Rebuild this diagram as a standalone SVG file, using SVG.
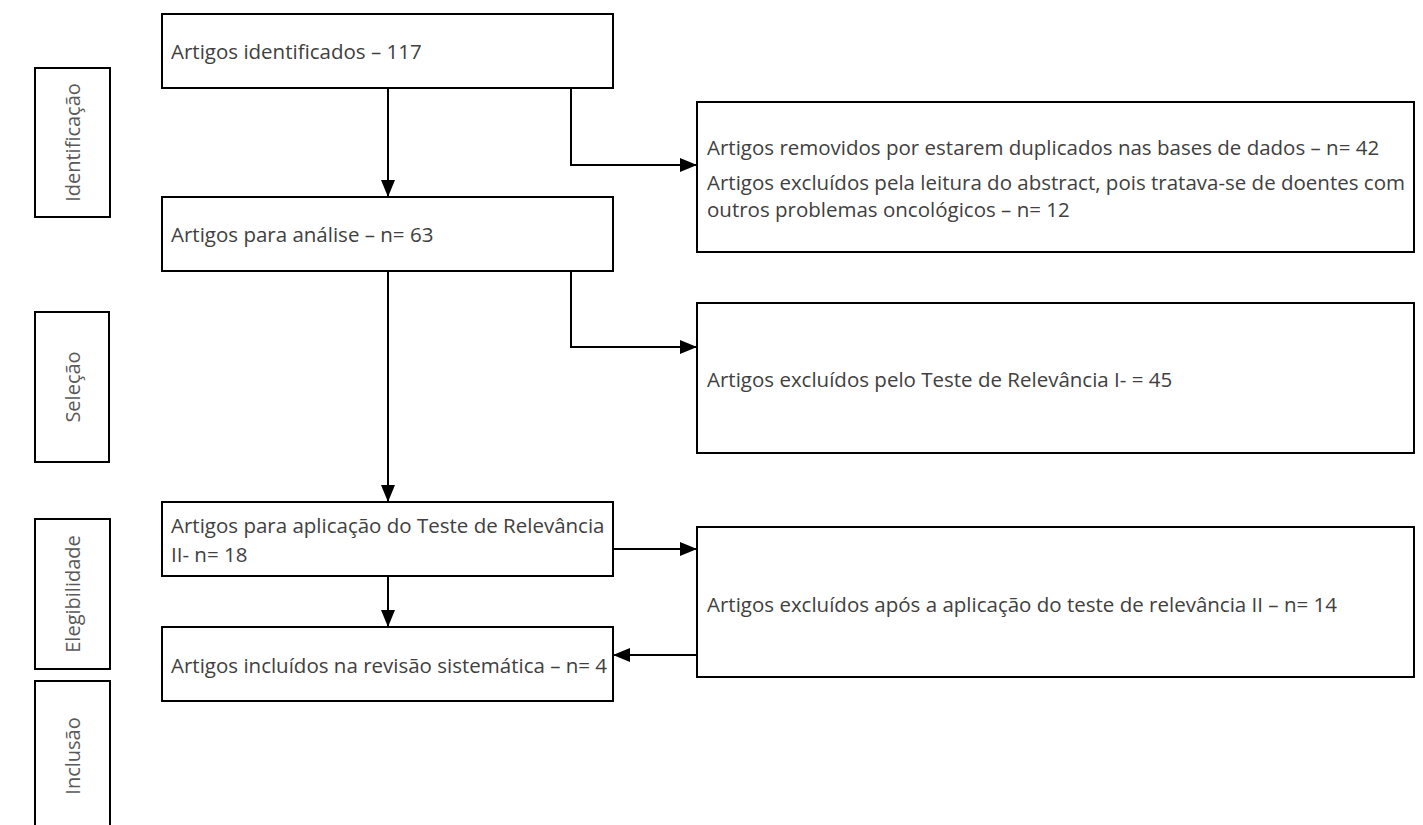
<svg xmlns="http://www.w3.org/2000/svg" width="1423" height="825" viewBox="0 0 1423 825">
<style>
.box{fill:#fff;stroke:#000;stroke-width:2}
.t{font-family:"Open Sans","Noto Sans","Liberation Sans",sans-serif;font-size:20.5px;fill:#404040}
.lab{font-family:"Open Sans","Noto Sans","Liberation Sans",sans-serif;font-size:20px;fill:#595959;text-anchor:middle}
.c{fill:none;stroke:#000;stroke-width:2}
</style>
<defs>
<marker id="ah" markerUnits="userSpaceOnUse" markerWidth="18" markerHeight="16" refX="17" refY="8" orient="auto">
<path d="M0,1 L17,8 L0,15 Z" fill="#000"/>
</marker>
</defs>
<rect width="1423" height="825" fill="#fff"/>
<g id="phase-identificacao"><rect class="box" x="35" y="68" width="75" height="149"/><text class="lab" transform="translate(80,142.5) rotate(-90)">Identificação</text></g>
<g id="phase-selecao"><rect class="box" x="35" y="312" width="74" height="150"/><text class="lab" transform="translate(80,387) rotate(-90)">Seleção</text></g>
<g id="phase-elegibilidade"><rect class="box" x="35" y="519" width="75" height="150"/><text class="lab" transform="translate(80,594) rotate(-90)">Elegibilidade</text></g>
<g id="phase-inclusao"><rect class="box" x="35" y="681" width="75" height="170"/><text class="lab" transform="translate(80,756) rotate(-90)">Inclusão</text></g>

<g id="connectors">
<line class="c" x1="388" y1="88" x2="388" y2="197" marker-end="url(#ah)"/>
<polyline class="c" points="571,88 571,165 697,165" marker-end="url(#ah)"/>
<line class="c" x1="388" y1="271" x2="388" y2="502" marker-end="url(#ah)"/>
<polyline class="c" points="571,271 571,347 697,347" marker-end="url(#ah)"/>
<line class="c" x1="613" y1="549" x2="697" y2="549" marker-end="url(#ah)"/>
<line class="c" x1="388" y1="576" x2="388" y2="627" marker-end="url(#ah)"/>
<line class="c" x1="697" y1="655" x2="613" y2="655" marker-end="url(#ah)"/>
</g>

<g id="n1"><rect class="box" x="162" y="14" width="451" height="74"/><text class="t" x="171" y="59">Artigos identificados – 117</text></g>
<g id="n2"><rect class="box" x="162" y="197" width="451" height="74"/><text class="t" x="171" y="242">Artigos para análise – n= 63</text></g>
<g id="n3"><rect class="box" x="162" y="502" width="451" height="74"/><text class="t" x="171" y="533">Artigos para aplicação do Teste de Relevância</text><text class="t" x="171" y="562">II- n= 18</text></g>
<g id="n4"><rect class="box" x="162" y="627" width="451" height="74"/><text class="t" x="171" y="673">Artigos incluídos na revisão sistemática – n= 4</text></g>

<g id="r1"><rect class="box" x="697" y="102" width="717" height="150"/>
<text class="t" x="707" y="155">Artigos removidos por estarem duplicados nas bases de dados – n= 42</text>
<text class="t" x="707" y="190">Artigos excluídos pela leitura do abstract, pois tratava-se de doentes com</text>
<text class="t" x="707" y="217">outros problemas oncológicos – n= 12</text></g>
<g id="r2"><rect class="box" x="697" y="303" width="717" height="150"/><text class="t" x="707" y="387">Artigos excluídos pelo Teste de Relevância I- = 45</text></g>
<g id="r3"><rect class="box" x="697" y="527" width="717" height="150"/><text class="t" x="707" y="612">Artigos excluídos após a aplicação do teste de relevância II – n= 14</text></g>
</svg>
